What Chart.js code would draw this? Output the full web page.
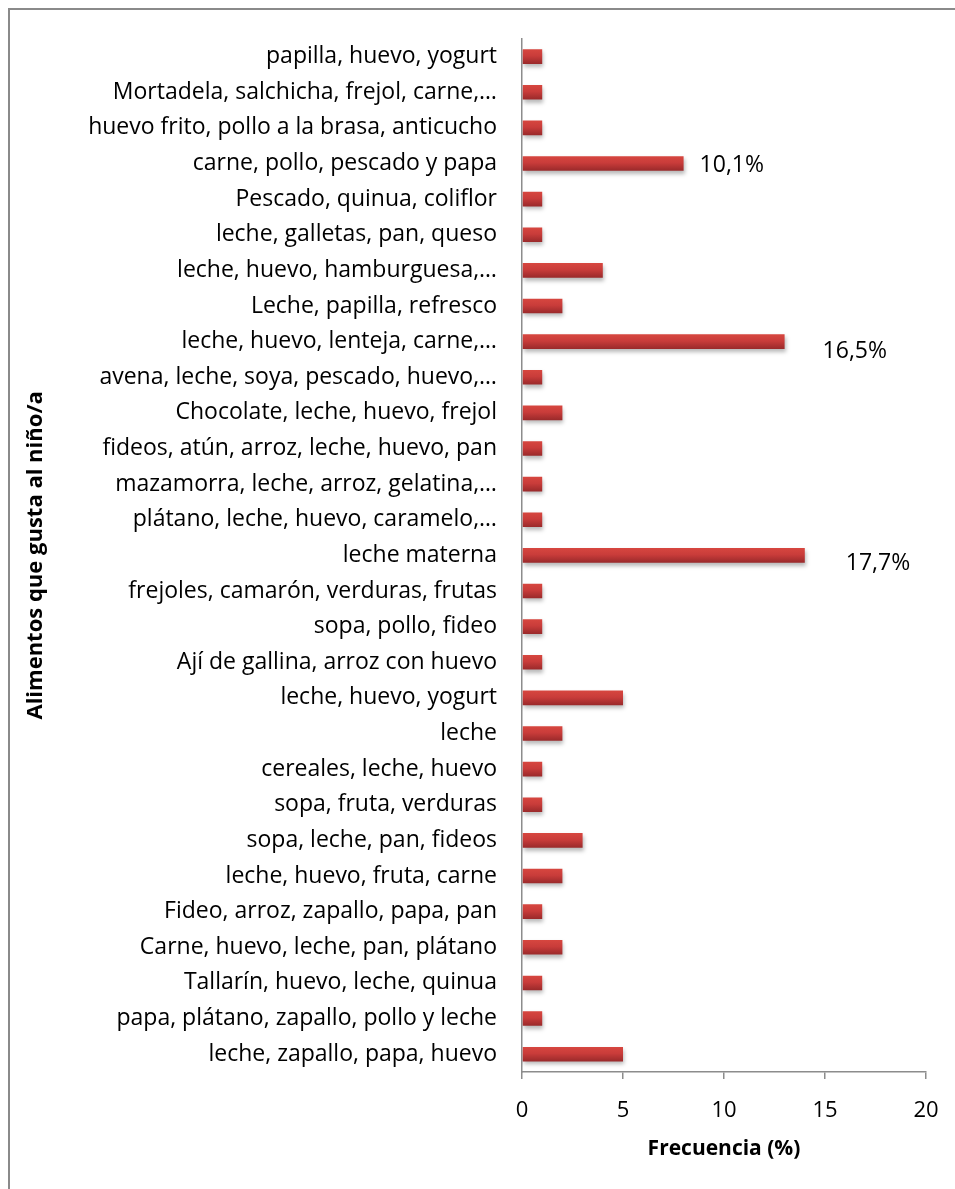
<!DOCTYPE html>
<html>
<head>
<meta charset="utf-8">
<title>Alimentos que gusta al niño/a</title>
<script src="https://cdn.jsdelivr.net/npm/chart.js@4.4.0/dist/chart.umd.min.js"></script>
<style>
  html, body { margin: 0; padding: 0; background: #fff; }
  #wrap { position: relative; width: 955px; height: 1189px; }
</style>
</head>
<body>
<div id="wrap"><canvas id="chart"></canvas></div>
<script>
// categories, top to bottom
const alimentos = [
  'papilla, huevo, yogurt',
  'Mortadela, salchicha, frejol, carne,…',
  'huevo frito, pollo a la brasa, anticucho',
  'carne, pollo, pescado y papa',
  'Pescado, quinua, coliflor',
  'leche, galletas, pan, queso',
  'leche, huevo, hamburguesa,…',
  'Leche, papilla, refresco',
  'leche, huevo, lenteja, carne,…',
  'avena, leche, soya, pescado, huevo,…',
  'Chocolate, leche, huevo, frejol',
  'fideos, atún, arroz, leche, huevo, pan',
  'mazamorra, leche, arroz, gelatina,…',
  'plátano, leche, huevo, caramelo,…',
  'leche materna',
  'frejoles, camarón, verduras, frutas',
  'sopa, pollo, fideo',
  'Ají de gallina, arroz con huevo',
  'leche, huevo, yogurt',
  'leche',
  'cereales, leche, huevo',
  'sopa, fruta, verduras',
  'sopa, leche, pan, fideos',
  'leche, huevo, fruta, carne',
  'Fideo, arroz, zapallo, papa, pan',
  'Carne, huevo, leche, pan, plátano',
  'Tallarín, huevo, leche, quinua',
  'papa, plátano, zapallo, pollo y leche',
  'leche, zapallo, papa, huevo'
];

// number of children per answer
const frecuencia = [1, 1, 1, 8, 1, 1, 4, 2, 13, 1, 2, 1, 1, 1, 14, 1, 1, 1, 5, 2, 1, 1, 3, 2, 1, 2, 1, 1, 5];

const xTicks = [0, 5, 10, 15, 20];

// bars that carry a percentage label
const conEtiqueta = [3, 8, 14];

const total = frecuencia.reduce((a, b) => a + b, 0);
const FONT = "'Open Sans', 'Noto Sans', sans-serif";
const AXIS_GREY = '#8c8c8c';

// excel-like shaded bar: light red on top, dark red underneath
function barFill(c) {
  const chart = c.chart;
  const y = chart.scales.y;
  if (!y || !chart.chartArea) return '#c0393b';
  const mid = y.getPixelForValue(c.dataIndex);
  const g = chart.ctx.createLinearGradient(0, mid - 7, 0, mid + 7);
  g.addColorStop(0, '#d6463f');
  g.addColorStop(0.45, '#c93c3a');
  g.addColorStop(1, '#9b2a2b');
  return g;
}

const frame = {
  id: 'frame',
  beforeDraw(chart) {
    const ctx = chart.ctx;
    ctx.save();
    ctx.strokeStyle = '#8a8a8a';
    ctx.lineWidth = 2;
    ctx.strokeRect(9, 9, 1200, 1400);
    ctx.restore();
  }
};

const barShadow = {
  id: 'barShadow',
  beforeDatasetsDraw(chart) {
    const ctx = chart.ctx;
    ctx.save();
    ctx.shadowColor = 'rgba(0, 0, 0, 0.28)';
    ctx.shadowBlur = 4;
    ctx.shadowOffsetX = 1;
    ctx.shadowOffsetY = 3;
  },
  afterDatasetsDraw(chart) {
    chart.ctx.restore();
  }
};

const percentLabels = {
  id: 'percentLabels',
  afterDatasetsDraw(chart, args, opts) {
    const ctx = chart.ctx;
    const meta = chart.getDatasetMeta(0);
    ctx.save();
    ctx.font = '23px ' + FONT;
    ctx.fillStyle = '#000';
    ctx.textAlign = 'left';
    ctx.textBaseline = 'middle';
    conEtiqueta.forEach(i => {
      const bar = meta.data[i];
      const [dx, dy] = opts.offsets[i] || [10, 0];
      const txt = (frecuencia[i] / total * 100).toFixed(1).replace('.', ',') + '%';
      ctx.fillText(txt, bar.x + dx, bar.y + dy);
    });
    ctx.restore();
  }
};

new Chart(document.getElementById('chart'), {
  type: 'bar',
  data: {
    labels: alimentos,
    datasets: [{
      data: frecuencia,
      backgroundColor: barFill,
      borderWidth: 0,
      categoryPercentage: 1,
      barPercentage: 0.41
    }]
  },
  options: {
    indexAxis: 'y',
    responsive: true,
    maintainAspectRatio: false,
    animation: false,
    layout: { padding: { top: 38, right: 29, bottom: 0, left: 0 } },
    plugins: {
      legend: { display: false },
      tooltip: { enabled: false },
      percentLabels: { offsets: { 3: [16, 2], 8: [38, 10], 14: [41, 8] } }
    },
    scales: {
      x: {
        type: 'linear',
        min: 0,
        max: 20,
        afterBuildTicks: s => { s.ticks = xTicks.map(v => ({ value: v })); },
        afterFit: s => {
          s.height = 117;
          s.paddingRight = 0;
        },
        grid: { drawOnChartArea: false, drawTicks: true, tickLength: 7, color: AXIS_GREY, lineWidth: 1.5 },
        border: { color: AXIS_GREY, width: 1.5 },
        ticks: { color: '#000', padding: 19, font: { family: FONT, size: 22 } },
        title: {
          display: true,
          text: 'Frecuencia (%)',
          color: '#000',
          font: { family: FONT, size: 21, weight: 'bold' },
          padding: { top: 4, bottom: 27 }
        }
      },
      y: {
        afterFit: s => { s.width = 522; },
        grid: { display: false, drawTicks: false },
        border: { color: AXIS_GREY, width: 1.5 },
        ticks: { color: '#000', padding: 25, autoSkip: false, font: { family: FONT, size: 23 } },
        title: {
          display: true,
          text: 'Alimentos que gusta al niño/a',
          color: '#000',
          font: { family: FONT, size: 22, weight: 'bold' },
          padding: { top: 23, bottom: 0 }
        }
      }
    }
  },
  plugins: [frame, barShadow, percentLabels]
});
</script>
</body>
</html>
